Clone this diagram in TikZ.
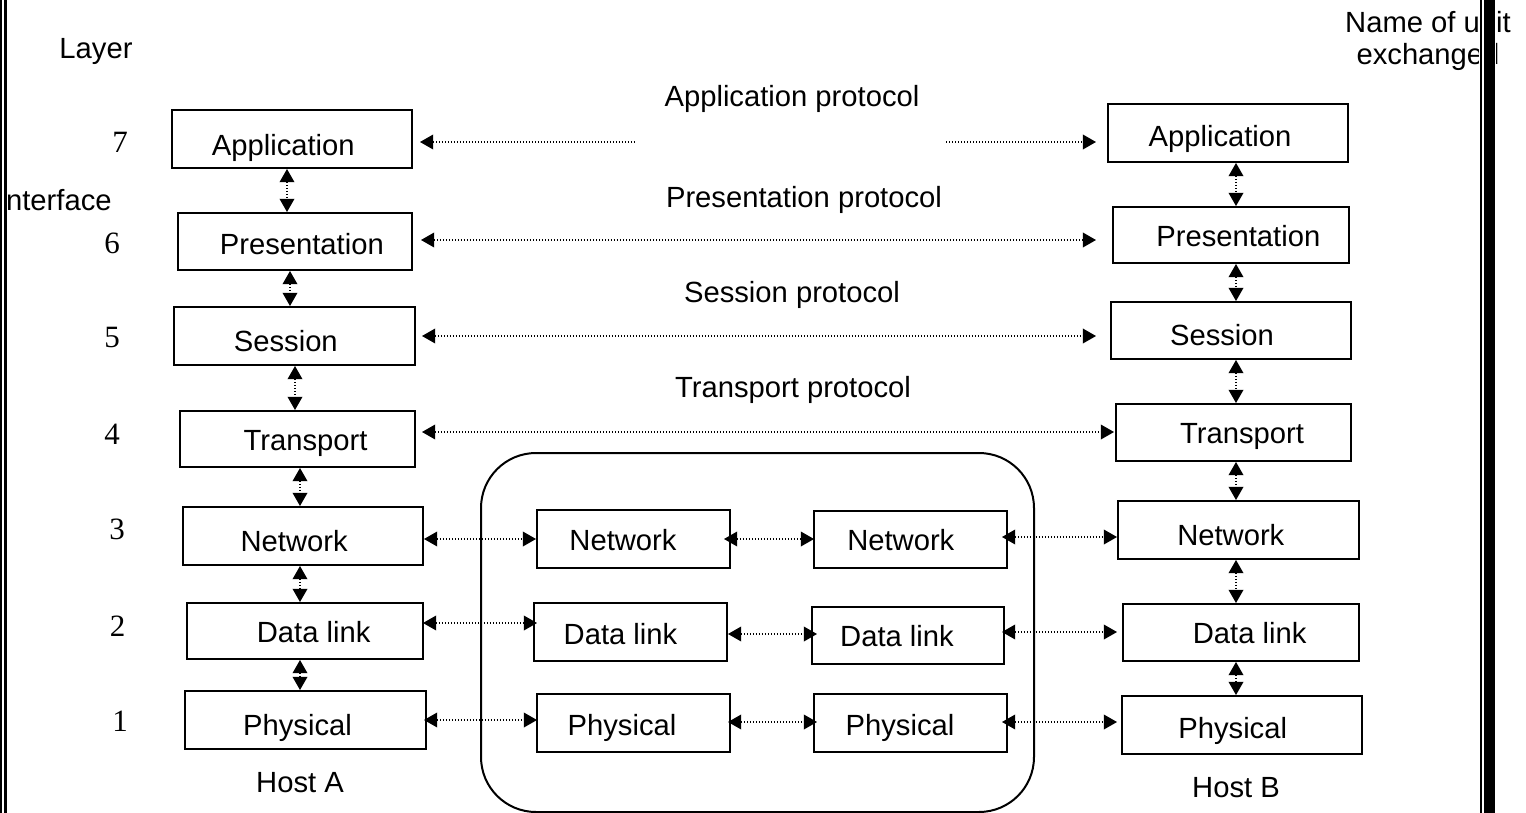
\documentclass[tikz,border=0pt]{standalone}
\usepackage{fontspec}
\setmainfont{Liberation Sans}
\newfontfamily\digitfont{Liberation Serif}
\usetikzlibrary{arrows.meta,calc}
% \tx{dx px}{extra drop pt}{text}
\newcommand\tx[3]{\hspace*{#1pt}\raisebox{-#2pt}{#3}}
\begin{document}
\begin{tikzpicture}[x=0.5pt,y=-0.5pt,
  every node/.style={font=\fontsize{14.6pt}{16pt}\selectfont},
  box/.style={draw, line width=1pt, inner sep=0pt, rectangle, text height=11pt, text depth=0pt},
  num/.style={font=\digitfont\fontsize{15.5pt}{17pt}\selectfont, inner sep=0pt},
  lbl/.style={anchor=base, inner sep=0pt},
  >={Triangle[length=6.6pt,width=7.4pt]},
  dots/.style={line width=0.55pt, dash pattern=on 0.65pt off 0.85pt},
  frame/.style={line width=1.2pt}]
\useasboundingbox (0,0) rectangle (1526,813);

% router container
\node[draw, line width=1pt, rounded corners=27.5pt, minimum width=276.5pt, minimum height=179.5pt, inner sep=0pt] (router) at (757.5,632.5) {};

% Host A
\node[box, minimum width=120pt, minimum height=29pt] (appA) at (292,139) {\tx{-8.7}{2.5}{Application}};
\node[box, minimum width=117pt, minimum height=28.5pt] (presA) at (295,241.5) {\tx{6.8}{0.75}{Presentation}};
\node[box, minimum width=120.5pt, minimum height=29pt] (sessA) at (294.5,336) {\tx{-8.7}{2.35}{Session}};
\node[box, minimum width=117.5pt, minimum height=28pt] (transA) at (297.5,439) {\tx{8}{0.35}{Transport}};
\node[box, minimum width=120pt, minimum height=29pt] (netA) at (303,536) {\tx{-8.8}{2.35}{Network}};
\node[box, minimum width=118pt, minimum height=28pt] (dlA) at (305,631) {\tx{8.7}{0.15}{Data link}};
\node[box, minimum width=120.5pt, minimum height=29pt] (physA) at (305.5,720) {\tx{-8}{2}{Physical}};

% routers
\node[box, minimum width=96.5pt, minimum height=29pt] (netM1) at (633.5,539) {\tx{-10.5}{0.35}{Network}};
\node[box, minimum width=96.5pt, minimum height=29pt] (dlM1) at (630.5,632) {\tx{-10}{0.5}{Data link}};
\node[box, minimum width=96.5pt, minimum height=29pt] (physM1) at (633.5,723) {\tx{-11.5}{0.5}{Physical}};
\node[box, minimum width=96.5pt, minimum height=28.5pt] (netM2) at (910.5,539.5) {\tx{-9.7}{0.1}{Network}};
\node[box, minimum width=96pt, minimum height=28.5pt] (dlM2) at (908,635.5) {\tx{-11}{0.1}{Data link}};
\node[box, minimum width=96.5pt, minimum height=29pt] (physM2) at (910.5,723) {\tx{-10.5}{0.5}{Physical}};

% Host B
\node[box, minimum width=120pt, minimum height=29pt] (appB) at (1228,133) {\tx{-8}{1.35}{Application}};
\node[box, minimum width=118pt, minimum height=28pt] (presB) at (1231,235) {\tx{7.3}{0.35}{Presentation}};
\node[box, minimum width=120pt, minimum height=28.5pt] (sessB) at (1231,330.5) {\tx{-9}{1.75}{Session}};
\node[box, minimum width=117.5pt, minimum height=28.5pt] (transB) at (1233.5,432.5) {\tx{8.5}{0}{Transport}};
\node[box, minimum width=120.5pt, minimum height=29pt] (netB) at (1238.5,530) {\tx{-7.7}{2}{Network}};
\node[box, minimum width=118pt, minimum height=28.5pt] (dlB) at (1241,632.5) {\tx{8.7}{0}{Data link}};
\node[box, minimum width=120pt, minimum height=29pt] (physB) at (1242,725) {\tx{-9.3}{1.15}{Physical}};

% helper coordinates
\coordinate (cA1) at (287,0);
\coordinate (cA2) at (290,0);
\coordinate (cA3) at (295,0);
\coordinate (cA4) at (300,0);
\coordinate (cB) at (1236,0);
\coordinate (rApp) at (0,142);
\coordinate (rPres) at (0,240);
\coordinate (rSess) at (0,336);
\coordinate (rTrans) at (0,432);
\coordinate (rNet1) at (0,539);
\coordinate (rNet3) at (0,537);
\coordinate (rDl1) at (0,623);
\coordinate (rDl2) at (0,634);
\coordinate (rDl3) at (0,632);
\coordinate (rPh1) at (0,720);
\coordinate (rPh2) at (0,722);
\coordinate (gapL) at (634,142);
\coordinate (gapR) at (946,142);

% vertical interfaces, host A
\draw[dots,<->] (appA.south -| cA1) -- (presA.north -| cA1);
\draw[dots,<->] (presA.south -| cA2) -- (sessA.north -| cA2);
\draw[dots,<->] (sessA.south -| cA3) -- (transA.north -| cA3);
\draw[dots,<->] (transA.south -| cA4) -- (netA.north -| cA4);
\draw[dots,<->] (netA.south -| cA4) -- (dlA.north -| cA4);
\draw[dots,<->] (dlA.south -| cA4) -- (physA.north -| cA4);
% vertical interfaces, host B
\draw[dots,<->] (appB.south -| cB) -- (presB.north -| cB);
\draw[dots,<->] (presB.south -| cB) -- (sessB.north -| cB);
\draw[dots,<->] (sessB.south -| cB) -- (transB.north -| cB);
\draw[dots,<->] (transB.south -| cB) -- (netB.north -| cB);
\draw[dots,<->] (netB.south -| cB) -- (dlB.north -| cB);
\draw[dots,<->] (dlB.south -| cB) -- (physB.north -| cB);

% peer protocols
\draw[dots,<-] ($(appA.east |- rApp)+(7,0)$) -- (gapL);
\draw[dots,->] (gapR) -- ($(appB.west |- rApp)+(-11,0)$);
\draw[dots,<->] ($(presA.east |- rPres)+(8,0)$) -- ($(presB.west |- rPres)+(-16,0)$);
\draw[dots,<->] ($(sessA.east |- rSess)+(6,0)$) -- ($(sessB.west |- rSess)+(-14,0)$);
\draw[dots,<->] ($(transA.east |- rTrans)+(6,0)$) -- ($(transB.west |- rTrans)+(-1,0)$);

\draw[dots,<->] (netA.east |- rNet1) -- (netM1.west |- rNet1);
\draw[dots,<->] ($(netM1.east |- rNet1)+(-7,0)$) -- ($(netM2.west |- rNet1)+(1,0)$);
\draw[dots,<->] ($(netM2.east |- rNet3)+(-6,0)$) -- (netB.west |- rNet3);

\draw[dots,<->] ($(dlA.east |- rDl1)+(-1,0)$) -- ($(dlM1.west |- rDl1)+(4,0)$);
\draw[dots,<->] (dlM1.east |- rDl2) -- ($(dlM2.west |- rDl2)+(6,0)$);
\draw[dots,<->] ($(dlM2.east |- rDl3)+(-3,0)$) -- ($(dlB.west |- rDl3)+(-5,0)$);

\draw[dots,<->] ($(physA.east |- rPh1)+(-3,0)$) -- ($(physM1.west |- rPh1)+(1,0)$);
\draw[dots,<->] ($(physM1.east |- rPh2)+(-3,0)$) -- ($(physM2.west |- rPh2)+(4,0)$);
\draw[dots,<->] ($(physM2.east |- rPh2)+(-6,0)$) -- ($(physB.west |- rPh2)+(-4,0)$);

% labels
\node[lbl] (layer) at (96,59) {Layer};
\node[lbl, anchor=base east] (iface) at (112,210) {Interface};
\node[lbl] (unit1) at (1428,33) {Name of unit};
\node[lbl] (unit2) at (1428,65) {exchanged};
\node[lbl] (papp) at (792,107) {Application protocol};
\node[lbl] (ppres) at (804,207) {Presentation protocol};
\node[lbl] (psess) at (792,302) {Session protocol};
\node[lbl] (ptrans) at (793,397) {Transport protocol};
\node[lbl] (hostA) at (300,792) {Host A};
\node[lbl] (hostB) at (1236,797) {Host B};

\node[num] (n7) at (120,142.5) {7};
\node[num] (n6) at (112,243) {6};
\node[num] (n5) at (112,337) {5};
\node[num] (n4) at (112,434) {4};
\node[num] (n3) at (117,529) {3};
\node[num] (n2) at (117.5,626) {2};
\node[num] (n1) at (120,721) {1};

% page frame
\fill[white] (0,0) rectangle (7,813);
\draw[frame] (1.2,0) -- (1.2,813);
\draw[frame] (5.4,0) -- (5.4,813);
\fill[white] (1479,0) rectangle (1496,813);
\draw[line width=1pt] (1481,0) -- (1481,813);
\fill[black] (1484,0) rectangle (1495,813);
\end{tikzpicture}
\end{document}
